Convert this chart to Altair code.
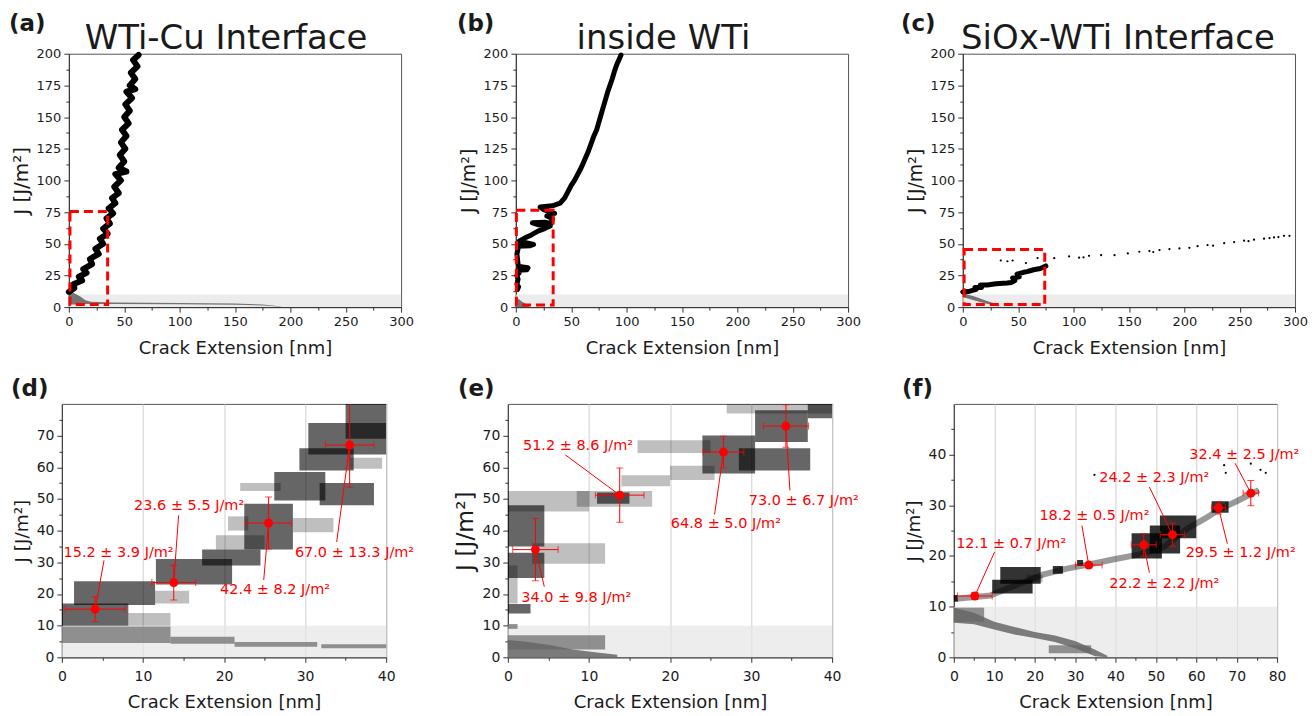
import altair as alt
import pandas as pd

FONT = "DejaVu Sans"
RED = "#ff0000"
INK = "#1a1a1a"
AXC = "#333333"
GRAYBAND = "#e6e6e6"
CLOUDGRAY = "#666666"

panel_letters = ["(a)", "(b)", "(c)", "(d)", "(e)", "(f)"]
top_titles = ["WTi-Cu Interface", "inside WTi", "SiOx-WTi Interface"]
x_title = "Crack Extension [nm]"
y_title = "J [J/m²]"

# ---------------- (a) WTi-Cu interface ----------------
a_x = [0, 5, 4, 12, 9, 16, 13, 21, 19, 27, 24, 31, 28, 35, 31, 37, 34, 40, 36, 42,
       39, 45, 41, 47, 42, 52, 45, 50, 46, 51, 47, 52, 48, 54, 50, 55, 51, 57, 52, 60,
       55, 60, 56, 62, 58, 63]
a_j = [12, 15, 18, 21, 24, 27, 30, 34, 38, 42, 46, 50, 54, 58, 62, 66, 70, 74, 78, 82,
       86, 90, 95, 100, 105, 107, 110, 115, 120, 125, 130, 135, 140, 145, 150, 155, 160, 165, 170, 172,
       175, 180, 185, 190, 195, 199]
a_gray_x = [0, 5, 10, 15, 20, 40, 100, 150, 175, 192]
a_gray_top = [13, 11, 8.5, 5.5, 4.2, 3.6, 3.2, 2.8, 2.0, 0.5]
a_gray_bot = [2, 2, 2, 2.4, 2.5, 2.5, 2.2, 1.9, 1.3, 0.3]
a_box = [1, 35, 2, 75.5]

# ---------------- (b) inside WTi ----------------
b_x = [1.5, 2.5, 1, 2, 1, 3, 1.5, 10, 11, 3, 2, 1.5, 1, 2, 1.5, 13, 16, 8, 3, 8,
       14, 20, 26, 31, 20, 15, 26, 32, 33, 28, 35, 25, 22, 33, 40, 44, 47, 50, 53, 56,
       59, 62, 65, 68, 70, 73, 75, 77, 79, 81, 83, 85, 87, 89, 91, 93, 95]
b_j = [14, 16, 18, 22, 25, 27, 29, 29.5, 31, 32, 34, 38, 42, 46, 48, 48.5, 49.5, 51, 52, 54.5,
       57, 60, 62, 64, 65, 66.5, 67, 66, 70, 72, 74, 77, 79, 80, 82, 86, 91, 96, 100, 105,
       110, 116, 122, 129, 134, 140, 146, 152, 158, 164, 170, 175, 180, 186, 191, 195, 199]
b_gray_x = [0, 3, 6, 10, 12]
b_gray_top = [8, 6, 4, 2, 1]
b_gray_bot = [0, 0, 0, 0, 0]
b_box = [0.5, 33.7, 1.6, 76.4]

# ---------------- (c) SiOx-WTi interface ----------------
c_x = [0, 5, 8, 12, 11, 17, 16, 22, 30, 40, 44, 47, 45, 51, 49, 55, 58, 64, 70, 75]
c_j = [12, 12.3, 13, 14, 15.5, 15.5, 17.5, 17.5, 18.5, 19, 19.5, 21, 23, 24, 26, 27.5, 28, 29.5, 30.5, 32.5]
c_dot_x = [34.3, 40.3, 45, 57, 67.5, 82.6, 96, 105, 109, 114, 124.9, 137, 149, 159.4, 168.5, 172,
           177.6, 186.6, 195.6, 204.6, 212, 221, 226, 236, 245, 254, 258, 263, 272, 277, 281, 285, 290, 295]
c_dot_j = [36.8, 36.2, 36.8, 34.8, 38.7, 38.6, 40, 39, 39.3, 40.5, 41, 41, 42.4, 43.7, 44.2, 43.5,
           45, 45.8, 46.3, 46.8, 48.1, 49, 48.5, 50.5, 51.3, 52.4, 52, 53.2, 54, 54.5, 55, 55.3, 56.3, 56.3]
c_gray_x = [0, 10, 20, 30, 33]
c_gray_top = [11, 8.5, 5.5, 2.5, 1.5]
c_gray_bot = [8, 5.5, 3, 0.8, 0.6]
c_box = [1.2, 74, 2, 45.4]

# ---------------- (d) zoom WTi-Cu ----------------
d_dense = ([0, 1.5, 11.6, 17.3, 22.5, 26.2, 31.8, 29.3, 30.4, 35],
           [8.2, 11.5, 21, 24.5, 28.5, 32.5, 38.5, 36, 40, 40],
           [10, 16.5, 23, 29, 34, 49.5, 48, 59, 64, 69],
           [17, 24, 31, 34, 48.5, 58.5, 55, 66, 74, 80])
d_sparse = ([8.2, 11.5, 19, 28.5, 20.5, 22, 35.5],
            [13.4, 15.7, 25, 33.5, 23, 27, 39.5],
            [10, 17, 34, 39.5, 40, 52.5, 59.5],
            [14, 21, 38.5, 44, 44.5, 55, 63])
d_gray = ([0, 13.4, 21.3, 32], [13.4, 21.3, 31.5, 40], [4.5, 4.3, 3.3, 2.9], [9.7, 6.5, 4.8, 4.1])
d_px = [4.1, 13.8, 25.5, 35.5]
d_pj = [15.2, 23.6, 42.4, 67.0]
d_xe = [3.7, 2.7, 2.8, 3.0]
d_je = [3.9, 5.5, 8.2, 13.3]
d_lab = ["15.2 ± 3.9 J/m²", "23.6 ± 5.5 J/m²", "42.4 ± 8.2 J/m²", "67.0 ± 13.3 J/m²"]
d_tx = [7.0, 15.7, 26.3, 36.1]
d_tj = [32.8, 47.7, 21.4, 33.0]
d_lx = [5.2, 14.4, 24.9, 33.9]
d_lj = [30.6, 44.8, 24.4, 36.4]

# ---------------- (e) zoom inside WTi ----------------
e_dense = ([0, 0, 0, 11, 24, 28.5, 30.5, 37],
           [2.8, 4.5, 4.5, 15, 30.5, 37.3, 37, 40],
           [13.8, 25, 35, 48.5, 58, 59, 68, 75.5],
           [16.8, 33, 48, 52, 70, 66, 78, 80])
e_sparse = ([0, 3, 0, 8.5, 14, 20, 16, 27],
            [1.2, 12, 10, 17.8, 20, 25.5, 25, 40],
            [17, 29.5, 46, 47.5, 54, 56, 64.5, 77],
            [29, 36, 52.5, 52.5, 57.5, 60.5, 68.5, 80])
e_gray_area = ([0, 2, 5, 8, 11, 13.5], [5.5, 5, 4, 2.5, 1.5, 0.8], [0, 0, 0, 0, 0, 0])
e_gray = ([0, 0], [12, 1.2], [2.5, 9], [7, 10.5])
e_px = [3.4, 13.8, 26.6, 34.3]
e_pj = [34.0, 51.2, 64.8, 73.0]
e_xe = [2.8, 3.0, 2.5, 2.8]
e_je = [9.8, 8.6, 5.0, 6.7]
e_lab = ["34.0 ± 9.8 J/m²", "51.2 ± 8.6 J/m²", "64.8 ± 5.0 J/m²", "73.0 ± 6.7 J/m²"]
e_tx = [8.45, 8.65, 26.9, 36.5]
e_tj = [18.6, 66.7, 42.2, 49.3]
e_lx = [4.5, 7.1, 25.5, 34.8]
e_lj = [22.3, 63.9, 45.1, 52.7]

# ---------------- (f) zoom SiOx-WTi ----------------
f_dense = ([0, 9.5, 11.5, 44, 48.5, 51, 63.8, 24.5, 30.5],
           [1, 19.5, 21.5, 51.5, 56, 60, 68, 27, 32],
           [11, 12.6, 14.5, 19.5, 20.5, 23.5, 28.5, 16.5, 18],
           [12.3, 15.3, 17.8, 24.5, 26, 28, 30.8, 18, 19.2])
f_sparse = ([18], [22], [14.8], [16.3])
f_band_x = [0, 9, 13, 22, 28, 34, 40, 46, 52, 58, 62, 66, 70, 75.5]
f_band_j = [11.5, 12.2, 13.5, 16.3, 17.5, 18.4, 19.4, 20.3, 21.8, 25.5, 27.3, 29.3, 30.8, 33]
f_dot_x = [34.8, 66.9, 67.3, 73.5, 75.9, 77.2]
f_dot_j = [36, 37.9, 36.4, 38.2, 37, 36.4]
f_gray_area = ([0, 5, 10, 15, 20, 25, 30, 35, 38],
               [9.8, 8.8, 7, 6, 5, 4.3, 3.2, 1.5, 0.3],
               [6.8, 6.5, 5.5, 4.5, 3.8, 3, 1.8, 0.2, 0])
f_gray = ([0, 23.5], [7.5, 34], [7, 0.8], [9.8, 2.4])
f_px = [5.2, 33.4, 47.0, 54.1, 65.5, 73.5]
f_pj = [12.1, 18.2, 22.2, 24.2, 29.5, 32.4]
f_xe = [4.3, 3.3, 3.1, 3.0, 1.7, 1.9]
f_je = [0.7, 0.5, 2.2, 2.3, 1.2, 2.5]
f_lab = ["12.1 ± 0.7 J/m²", "18.2 ± 0.5 J/m²", "22.2 ± 2.2 J/m²", "24.2 ± 2.3 J/m²",
         "29.5 ± 1.2 J/m²", "32.4 ± 2.5 J/m²"]
f_tx = [14.2, 34.8, 52.1, 49.6, 71.0, 71.9]
f_tj = [22.4, 27.8, 14.4, 35.4, 20.6, 40.0]
f_lx = [10.1, 31.7, 48.4, 48.4, 67.7, 69.6]
f_lj = [20.8, 26.0, 16.7, 33.6, 22.4, 38.3]


def cond(test, a, b):
    return {"condition": {"test": test, "value": a}, "value": b}


def axis_x(values, major, lsize, tsize, grid, lpad, tpad):
    kw = dict(title=x_title, values=values,
              labelExpr=f"datum.value % {major} == 0 ? datum.label : ''",
              tickSize=cond(f"datum.value % {major} == 0", 5, 3),
              labelFont=FONT, labelFontSize=lsize, labelColor=INK,
              titleFont=FONT, titleFontSize=tsize, titleFontWeight="normal", titleColor=INK,
              domainColor=AXC, tickColor=AXC, labelPadding=lpad, titlePadding=tpad,
              labelOverlap=False, labelFlush=False, grid=grid)
    if grid:
        kw.update(gridColor="#cfcfcf", gridOpacity=cond(f"datum.value % {major} == 0", 1, 0))
    return alt.Axis(**kw)


def axis_y(values, major, lsize, tsize):
    return alt.Axis(title=y_title, values=values,
                    labelExpr=f"datum.value % {major} == 0 ? datum.label : ''",
                    tickSize=cond(f"datum.value % {major} == 0", 5, 3),
                    labelFont=FONT, labelFontSize=lsize, labelColor=INK,
                    titleFont=FONT, titleFontSize=tsize, titleFontWeight="normal", titleColor=INK,
                    domainColor=AXC, tickColor=AXC, labelPadding=3, titlePadding=5,
                    labelOverlap=False, labelFlush=False, grid=False)


def rect_df(x1, x2, j1, j2):
    return pd.DataFrame({"x1": x1, "x2": x2, "j1": j1, "j2": j2})


def text_layer(txt, x, y, size, weight, align, baseline):
    return alt.Chart(pd.DataFrame({"t": [txt]})).mark_text(
        font=FONT, fontSize=size, fontWeight=weight, align=align, baseline=baseline, color=INK
    ).encode(text="t:N", x=alt.value(x), y=alt.value(y))


def make_enc(xmax, ymax, ax, ay):
    xs = alt.Scale(domain=[0, xmax], nice=False, zero=False)
    ys = alt.Scale(domain=[0, ymax], nice=False, zero=False)

    def X(f):
        return alt.X(f, type="quantitative", scale=xs, axis=ax)

    def Y(f):
        return alt.Y(f, type="quantitative", scale=ys, axis=ay)
    return X, Y


def top_panel(lx, lj, lw, gx, gtop, gbot, box, dots, title, title_x, letter, letter_x, ytsize):
    X, Y = make_enc(300, 200,
                    axis_x([i * 25 for i in range(13)], 50, 13, 18, False, 3, 11),
                    axis_y([i * 12.5 for i in range(17)], 25, 13, ytsize))
    layers = []
    layers.append(alt.Chart(rect_df([0], [300], [0], [10])).mark_rect(color=GRAYBAND, opacity=0.75).encode(
        x=X("x1"), x2="x2", y=Y("j1"), y2="j2"))
    layers.append(alt.Chart(pd.DataFrame({"x": gx, "top": gtop, "bot": gbot})).mark_area(
        color=CLOUDGRAY, opacity=0.9).encode(x=X("x"), y=Y("top"), y2="bot"))
    layers.append(alt.Chart(pd.DataFrame({"x": lx, "j": lj, "i": list(range(len(lx)))})).mark_line(
        color="black", strokeWidth=lw, strokeJoin="round", strokeCap="round").encode(
        x=X("x"), y=Y("j"), order="i:Q"))
    if dots is not None:
        layers.append(alt.Chart(pd.DataFrame({"x": dots[0], "j": dots[1]})).mark_circle(
            color="black", size=5, opacity=1).encode(x=X("x"), y=Y("j")))
    layers.append(alt.Chart(rect_df([box[0]], [box[1]], [box[2]], [box[3]])).mark_rect(
        fillOpacity=0, stroke=RED, strokeWidth=3, strokeDash=[9, 5]).encode(
        x=X("x1"), x2="x2", y=Y("j1"), y2="j2"))
    layers.append(text_layer(title, title_x, -5, 34, "normal", "center", "alphabetic"))
    layers.append(text_layer(letter, letter_x, -30, 23, "bold", "left", "middle"))
    return alt.layer(*layers).properties(width=333, height=254)


def bottom_panel(xmax, ymax, width, dense, dense_op, sparse, gray_area, gray_rects, band, dots,
                 px, pj, xe, je, labs, tx, tj, lx, lj, ytsize, letter, letter_x):
    X, Y = make_enc(xmax, ymax,
                    axis_x(list(range(0, xmax + 1, 5)), 10, 14, 18, True, 7, 10),
                    axis_y(list(range(0, ymax, 5)), 10, 14, ytsize))
    layers = []
    layers.append(alt.Chart(rect_df([0], [xmax], [0], [10])).mark_rect(color=GRAYBAND, opacity=0.7).encode(
        x=X("x1"), x2="x2", y=Y("j1"), y2="j2"))
    if gray_area is not None:
        layers.append(alt.Chart(pd.DataFrame({"x": gray_area[0], "top": gray_area[1], "bot": gray_area[2]})).mark_area(
            color=CLOUDGRAY, opacity=0.85).encode(x=X("x"), y=Y("top"), y2="bot"))
    if gray_rects is not None:
        layers.append(alt.Chart(rect_df(*gray_rects)).mark_rect(color=CLOUDGRAY, opacity=0.7).encode(
            x=X("x1"), x2="x2", y=Y("j1"), y2="j2"))
    if sparse is not None:
        layers.append(alt.Chart(rect_df(*sparse)).mark_rect(color="black", opacity=0.25).encode(
            x=X("x1"), x2="x2", y=Y("j1"), y2="j2"))
    layers.append(alt.Chart(rect_df(*dense)).mark_rect(color="black", opacity=dense_op, clip=True).encode(
        x=X("x1"), x2="x2", y=Y("j1"), y2="j2"))
    if band is not None:
        layers.append(alt.Chart(pd.DataFrame({"x": band[0], "j": band[1]})).mark_line(
            color="black", strokeWidth=6, opacity=0.4).encode(x=X("x"), y=Y("j")))
    if dots is not None:
        layers.append(alt.Chart(pd.DataFrame({"x": dots[0], "j": dots[1]})).mark_circle(
            color="black", size=5, opacity=1).encode(x=X("x"), y=Y("j")))

    red = pd.DataFrame({"x": px, "j": pj, "xe": xe, "je": je, "lab": labs,
                        "tx": tx, "tj": tj, "lx": lx, "lj": lj})
    red["xlo"] = red["x"] - red["xe"]
    red["xhi"] = red["x"] + red["xe"]
    red["jlo"] = red["j"] - red["je"]
    red["jhi"] = red["j"] + red["je"]
    capx = pd.DataFrame({"x": list(red["xlo"]) + list(red["xhi"]), "j": list(red["j"]) * 2})
    capy = pd.DataFrame({"x": list(red["x"]) * 2, "j": list(red["jlo"]) + list(red["jhi"])})
    base = alt.Chart(red)
    layers.append(base.mark_rule(color=RED, strokeWidth=1, clip=True).encode(
        x=X("xlo"), x2="xhi", y=Y("j")))
    layers.append(base.mark_rule(color=RED, strokeWidth=1, clip=True).encode(
        x=X("x"), y=Y("jlo"), y2="jhi"))
    layers.append(alt.Chart(capx).mark_tick(color=RED, orient="vertical", size=7, thickness=1, clip=True).encode(
        x=X("x"), y=Y("j")))
    layers.append(alt.Chart(capy).mark_tick(color=RED, orient="horizontal", size=7, thickness=1, clip=True).encode(
        x=X("x"), y=Y("j")))
    layers.append(base.mark_rule(color=RED, strokeWidth=1).encode(
        x=X("lx"), y=Y("lj"), x2="x", y2="j"))
    layers.append(base.mark_circle(color=RED, size=80, opacity=1).encode(
        x=X("x"), y=Y("j")))
    layers.append(base.mark_text(color=RED, font=FONT, fontSize=14.5, align="center", baseline="middle").encode(
        x=X("tx"), y=Y("tj"), text="lab:N"))
    layers.append(text_layer(letter, letter_x, -15, 23, "bold", "left", "middle"))
    return alt.layer(*layers).properties(width=width, height=254)


pa = top_panel(a_x, a_j, 6, a_gray_x, a_gray_top, a_gray_bot, a_box, None,
               top_titles[0], 157.5, panel_letters[0], -60, 20)
pb = top_panel(b_x, b_j, 5, b_gray_x, b_gray_top, b_gray_bot, b_box, None,
               top_titles[1], 148, panel_letters[1], -59, 19)
pc = top_panel(c_x, c_j, 5, c_gray_x, c_gray_top, c_gray_bot, c_box, (c_dot_x, c_dot_j),
               top_titles[2], 155.5, panel_letters[2], -62, 19)

pd_ = bottom_panel(40, 80, 325, d_dense, 0.6, d_sparse, None, d_gray, None, None,
                   d_px, d_pj, d_xe, d_je, d_lab, d_tx, d_tj, d_lx, d_lj, 18.5, panel_letters[3], -51)
pe = bottom_panel(40, 80, 325, e_dense, 0.6, e_sparse, e_gray_area, e_gray, None, None,
                  e_px, e_pj, e_xe, e_je, e_lab, e_tx, e_tj, e_lx, e_lj, 23.5, panel_letters[4], -50)
pf = bottom_panel(80, 50, 324, f_dense, 0.8, f_sparse, f_gray_area, f_gray, (f_band_x, f_band_j), (f_dot_x, f_dot_j),
                  f_px, f_pj, f_xe, f_je, f_lab, f_tx, f_tj, f_lx, f_lj, 18, panel_letters[5], -52)

spacer = alt.Chart(pd.DataFrame({"v": [0]})).mark_point(opacity=0).encode(
    x=alt.value(0), y=alt.value(0)).properties(width=7, height=10, view=alt.ViewBackground(stroke="transparent"))

row1 = alt.hconcat(pa, pb, pc, spacing=115, bounds="flush")
top = alt.hconcat(spacer, row1, spacing=0, bounds="flush")
bottom = alt.hconcat(pd_, pe, pf, spacing=122, bounds="flush")

chart = alt.vconcat(top, bottom, spacing=19).properties(
    padding={"left": 0, "top": 3, "right": 0, "bottom": 0}).configure_view(
    stroke="#555555", strokeWidth=1)

chart.save("out.html", embed_options={"renderer": "svg", "actions": False})
